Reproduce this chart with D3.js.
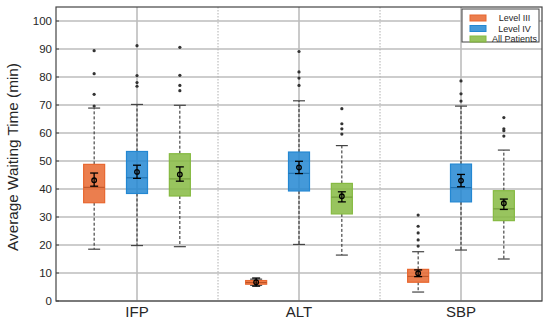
<!DOCTYPE html>
<html><head><meta charset="utf-8">
<script src="https://cdn.jsdelivr.net/npm/d3@7"></script>
<style>body{margin:0;background:#fff;} svg{display:block;font-family:Arial,"Liberation Sans",sans-serif;}</style>
</head><body><svg id="c" width="550" height="324"></svg>
<script>
const categories = ["IFP", "ALT", "SBP"];
const seriesNames = ["Level III", "Level IV", "All Patients"];
const seriesColors = ["#E8672F", "#2387D2", "#86BA42"];
const yTicks = [0,10,20,30,40,50,60,70,80,90,100];
// per category, per series: [whiskerLow, q1, median, q3, whiskerHigh]
const boxStats = [
  [[18.5,35.1,40.6,48.8,68.9],[19.8,38.4,44.0,53.4,70.2],[19.4,37.5,43.6,52.6,69.9]],
  [[5.6,6.0,6.6,7.3,7.8],[20.2,39.3,45.6,53.2,71.5],[16.4,31.1,37.1,42.0,55.5]],
  [[3.2,6.7,8.8,11.3,17.6],[18.2,35.4,40.5,48.9,69.6],[15.0,28.7,32.9,39.4,53.9]]
];
// mean, errLow, errHigh
const meanStats = [
  [[43.1,41.0,45.7],[46.1,43.8,48.5],[45.2,42.8,47.9]],
  [[6.7,5.3,8.2],[47.7,45.5,49.9],[37.4,35.4,39.0]],
  [[9.9,8.7,11.1],[43.0,40.8,45.2],[34.9,32.7,36.4]]
];
const outliers = [
  [[69.6,73.8,81.2,89.4],[76.7,78.0,80.5,91.2],[75.1,77.0,80.6,90.6]],
  [[],[77.0,79.6,81.8,89.1],[59.6,61.5,63.3,68.7]],
  [[19.6,21.8,24.3,26.7,30.7],[71.4,74.0,78.6],[58.9,60.8,61.5,65.5]]
];

const svg = d3.select("#c");
const m = {l:56, r:542, t:7, b:301};
const y = d3.scaleLinear().domain([0,105]).range([m.b, m.t]);
const x = d3.scaleBand().domain(categories).range([m.l, m.r]).padding(0);
const xs = d3.scaleBand().domain(seriesNames).range([-60,60]).paddingInner(0.2);
const bw = 21;

// grid
svg.append("g").selectAll("line").data(yTicks).join("line")
  .attr("x1",m.l).attr("x2",m.r).attr("y1",d=>y(d)).attr("y2",d=>y(d))
  .attr("stroke","#bdbdbd").attr("stroke-width",1.6);
svg.append("g").selectAll("line").data(categories).join("line")
  .attr("x1",d=>x(d)+x.bandwidth()/2).attr("x2",d=>x(d)+x.bandwidth()/2)
  .attr("y1",m.t).attr("y2",m.b).attr("stroke","#bdbdbd").attr("stroke-width",1.6);
svg.append("g").selectAll("line").data(categories.slice(1)).join("line")
  .attr("x1",d=>x(d)).attr("x2",d=>x(d)).attr("y1",m.t).attr("y2",m.b)
  .attr("stroke","#b0b0b0").attr("stroke-width",1).attr("stroke-dasharray","1.5,1.5");

const groups = svg.append("g").selectAll("g").data(categories).join("g")
  .attr("transform",d=>`translate(${x(d)+x.bandwidth()/2},0)`);

groups.each(function(cat, ci){
  const g = d3.select(this);
  seriesNames.forEach((s, si)=>{
    const cx = xs(s)+xs.bandwidth()/2;
    const [wl,q1,med,q3,wh] = boxStats[ci][si];
    const col = seriesColors[si];
    // whiskers
    g.append("line").attr("x1",cx).attr("x2",cx).attr("y1",y(q3)).attr("y2",y(wh))
      .attr("stroke","#222").attr("stroke-width",1).attr("stroke-dasharray","3,2");
    g.append("line").attr("x1",cx).attr("x2",cx).attr("y1",y(q1)).attr("y2",y(wl))
      .attr("stroke","#222").attr("stroke-width",1).attr("stroke-dasharray","3,2");
    [wl,wh].forEach(v=>g.append("line").attr("x1",cx-6).attr("x2",cx+6).attr("y1",y(v)).attr("y2",y(v))
      .attr("stroke","#444").attr("stroke-width",1.2));
    // box
    g.append("rect").attr("x",cx-bw/2).attr("width",bw).attr("y",y(q3)).attr("height",y(q1)-y(q3))
      .attr("fill",col).attr("fill-opacity",0.85).attr("stroke",col).attr("stroke-width",1.2);
    g.append("line").attr("x1",cx-bw/2).attr("x2",cx+bw/2).attr("y1",y(med)).attr("y2",y(med))
      .attr("stroke",d3.color(col).darker(0.6)).attr("stroke-width",1);
    // outliers
    g.selectAll(null).data(outliers[ci][si]).join("circle")
      .attr("cx",cx).attr("cy",d=>y(d)).attr("r",1.6).attr("fill","#333");
    // mean + error bar
    const [mn,el,eh] = meanStats[ci][si];
    g.append("line").attr("x1",cx).attr("x2",cx).attr("y1",y(el)).attr("y2",y(eh)).attr("stroke","#000").attr("stroke-width",1.3);
    [el,eh].forEach(v=>g.append("line").attr("x1",cx-4).attr("x2",cx+4).attr("y1",y(v)).attr("y2",y(v))
      .attr("stroke","#000").attr("stroke-width",1.3));
    g.append("circle").attr("cx",cx).attr("cy",y(mn)).attr("r",2.3).attr("fill","none").attr("stroke","#000").attr("stroke-width",1.3);
  });
});

// frame
svg.append("rect").attr("x",m.l).attr("y",m.t).attr("width",m.r-m.l).attr("height",m.b-m.t)
  .attr("fill","none").attr("stroke","#444").attr("stroke-width",1.2);

// y axis labels
svg.append("g").selectAll("text").data(yTicks).join("text")
  .attr("x",m.l-4).attr("y",d=>y(d)).attr("dy","0.35em").attr("text-anchor","end")
  .attr("font-size",11.5).attr("fill","#262626").text(d=>d);
svg.append("g").selectAll("line").data(yTicks).join("line")
  .attr("x1",m.l).attr("x2",m.l+3).attr("y1",d=>y(d)).attr("y2",d=>y(d)).attr("stroke","#444");
// x labels
svg.append("g").selectAll("text").data(categories).join("text")
  .attr("x",d=>x(d)+x.bandwidth()/2).attr("y",317).attr("text-anchor","middle")
  .attr("font-size",15).attr("fill","#262626").text(d=>d);
// y title
svg.append("text").attr("transform","translate(18,157) rotate(-90)").attr("text-anchor","middle")
  .attr("font-size",15.3).attr("fill","#262626").text("Average Waiting Time (min)");

// legend
const lg = svg.append("g");
lg.append("rect").attr("x",462).attr("y",9).attr("width",77).attr("height",33)
  .attr("fill","#fff").attr("stroke","#444").attr("stroke-width",1);
seriesNames.forEach((s,i)=>{
  const yy = 18 + i*10.5;
  lg.append("rect").attr("x",470).attr("y",yy-3).attr("width",16).attr("height",6)
    .attr("fill",seriesColors[i]).attr("fill-opacity",0.85).attr("stroke",seriesColors[i]);
  lg.append("text").attr("x",514.5).attr("y",yy).attr("dy","0.35em").attr("text-anchor","middle")
    .attr("font-size",9).attr("fill","#262626").text(s);
});
</script></body></html>
